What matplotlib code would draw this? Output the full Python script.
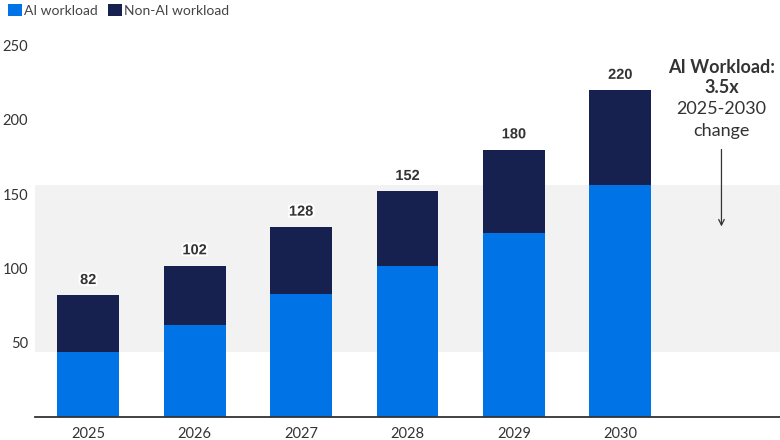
import numpy as np
import matplotlib.pyplot as plt
import matplotlib.patheffects as pe

# --- data ---
years = ["2025", "2026", "2027", "2028", "2029", "2030"]
ai_workload = [44, 62, 83, 102, 124, 156]
non_ai_workload = [38, 40, 45, 50, 56, 64]
totals = [82, 102, 128, 152, 180, 220]
y_ticks = [50, 100, 150, 200, 250]

AI_BLUE = "#0073e6"
NAVY = "#162150"
TEXT = "#333333"

plt.rcParams["font.family"] = ["Lato", "DejaVu Sans"]

fig = plt.figure(figsize=(7.8, 4.4), dpi=100)
ax = fig.add_axes([35 / 780, 22.7 / 440, 745 / 780, 394 / 440])

x = np.arange(len(years))
ax.axhspan(ai_workload[0], ai_workload[-1], color="#f2f2f2", zorder=0, lw=0)

ax.bar(x, ai_workload, width=0.58, color=AI_BLUE, zorder=2, label="AI workload")
ax.bar(x, non_ai_workload, width=0.58, bottom=ai_workload, color=NAVY, zorder=2,
       label="Non-AI workload")

# totals above each bar, bold with a white halo
for xi, t in zip(x, totals):
    ax.annotate(str(t), (xi, t), xytext=(0, 6), textcoords="offset points",
                ha="center", va="bottom", fontsize=10.5, fontweight="bold",
                color=TEXT, family=["Liberation Sans", "DejaVu Sans"],
                path_effects=[pe.withStroke(linewidth=3, foreground="white")])

ax.set_xlim(-0.5, 6.5)
ax.set_ylim(0, 265)
ax.set_xticks(x)
ax.set_xticklabels(years)
ax.set_yticks(y_ticks)
ax.tick_params(axis="both", length=0, labelsize=10.5, colors=TEXT)
ax.tick_params(axis="x", pad=7)
ax.tick_params(axis="y", pad=5)

for side in ["top", "right", "left"]:
    ax.spines[side].set_visible(False)
ax.spines["bottom"].set_color("#333333")
ax.spines["bottom"].set_linewidth(1.3)

# annotation on the empty slot
note_x = 5.95
ax.text(note_x, 235.5, "AI Workload:", ha="center", va="center", fontsize=13,
        fontweight="bold", color=TEXT)
ax.text(note_x, 221.5, "3.5x", ha="center", va="center", fontsize=13,
        fontweight="bold", color=TEXT)
ax.text(note_x, 207.5, "2025-2030", ha="center", va="center", fontsize=13, color=TEXT)
ax.text(note_x, 192.5, "change", ha="center", va="center", fontsize=13, color=TEXT)
ax.annotate("", xy=(note_x, 126.5), xytext=(note_x, 182),
            arrowprops=dict(arrowstyle="->", color="#333333", lw=0.9,
                            mutation_scale=10))

# legend top-left
handles, labels = ax.get_legend_handles_labels()
fig.legend(handles, labels, loc="upper left", bbox_to_anchor=(0.0, 1.01),
           ncol=2, frameon=False, fontsize=10, handlelength=1.0,
           handleheight=1.0, handletextpad=0.1, columnspacing=0.8,
           labelcolor="#444444", borderaxespad=0.2)

fig.savefig("out.png", dpi=100)
